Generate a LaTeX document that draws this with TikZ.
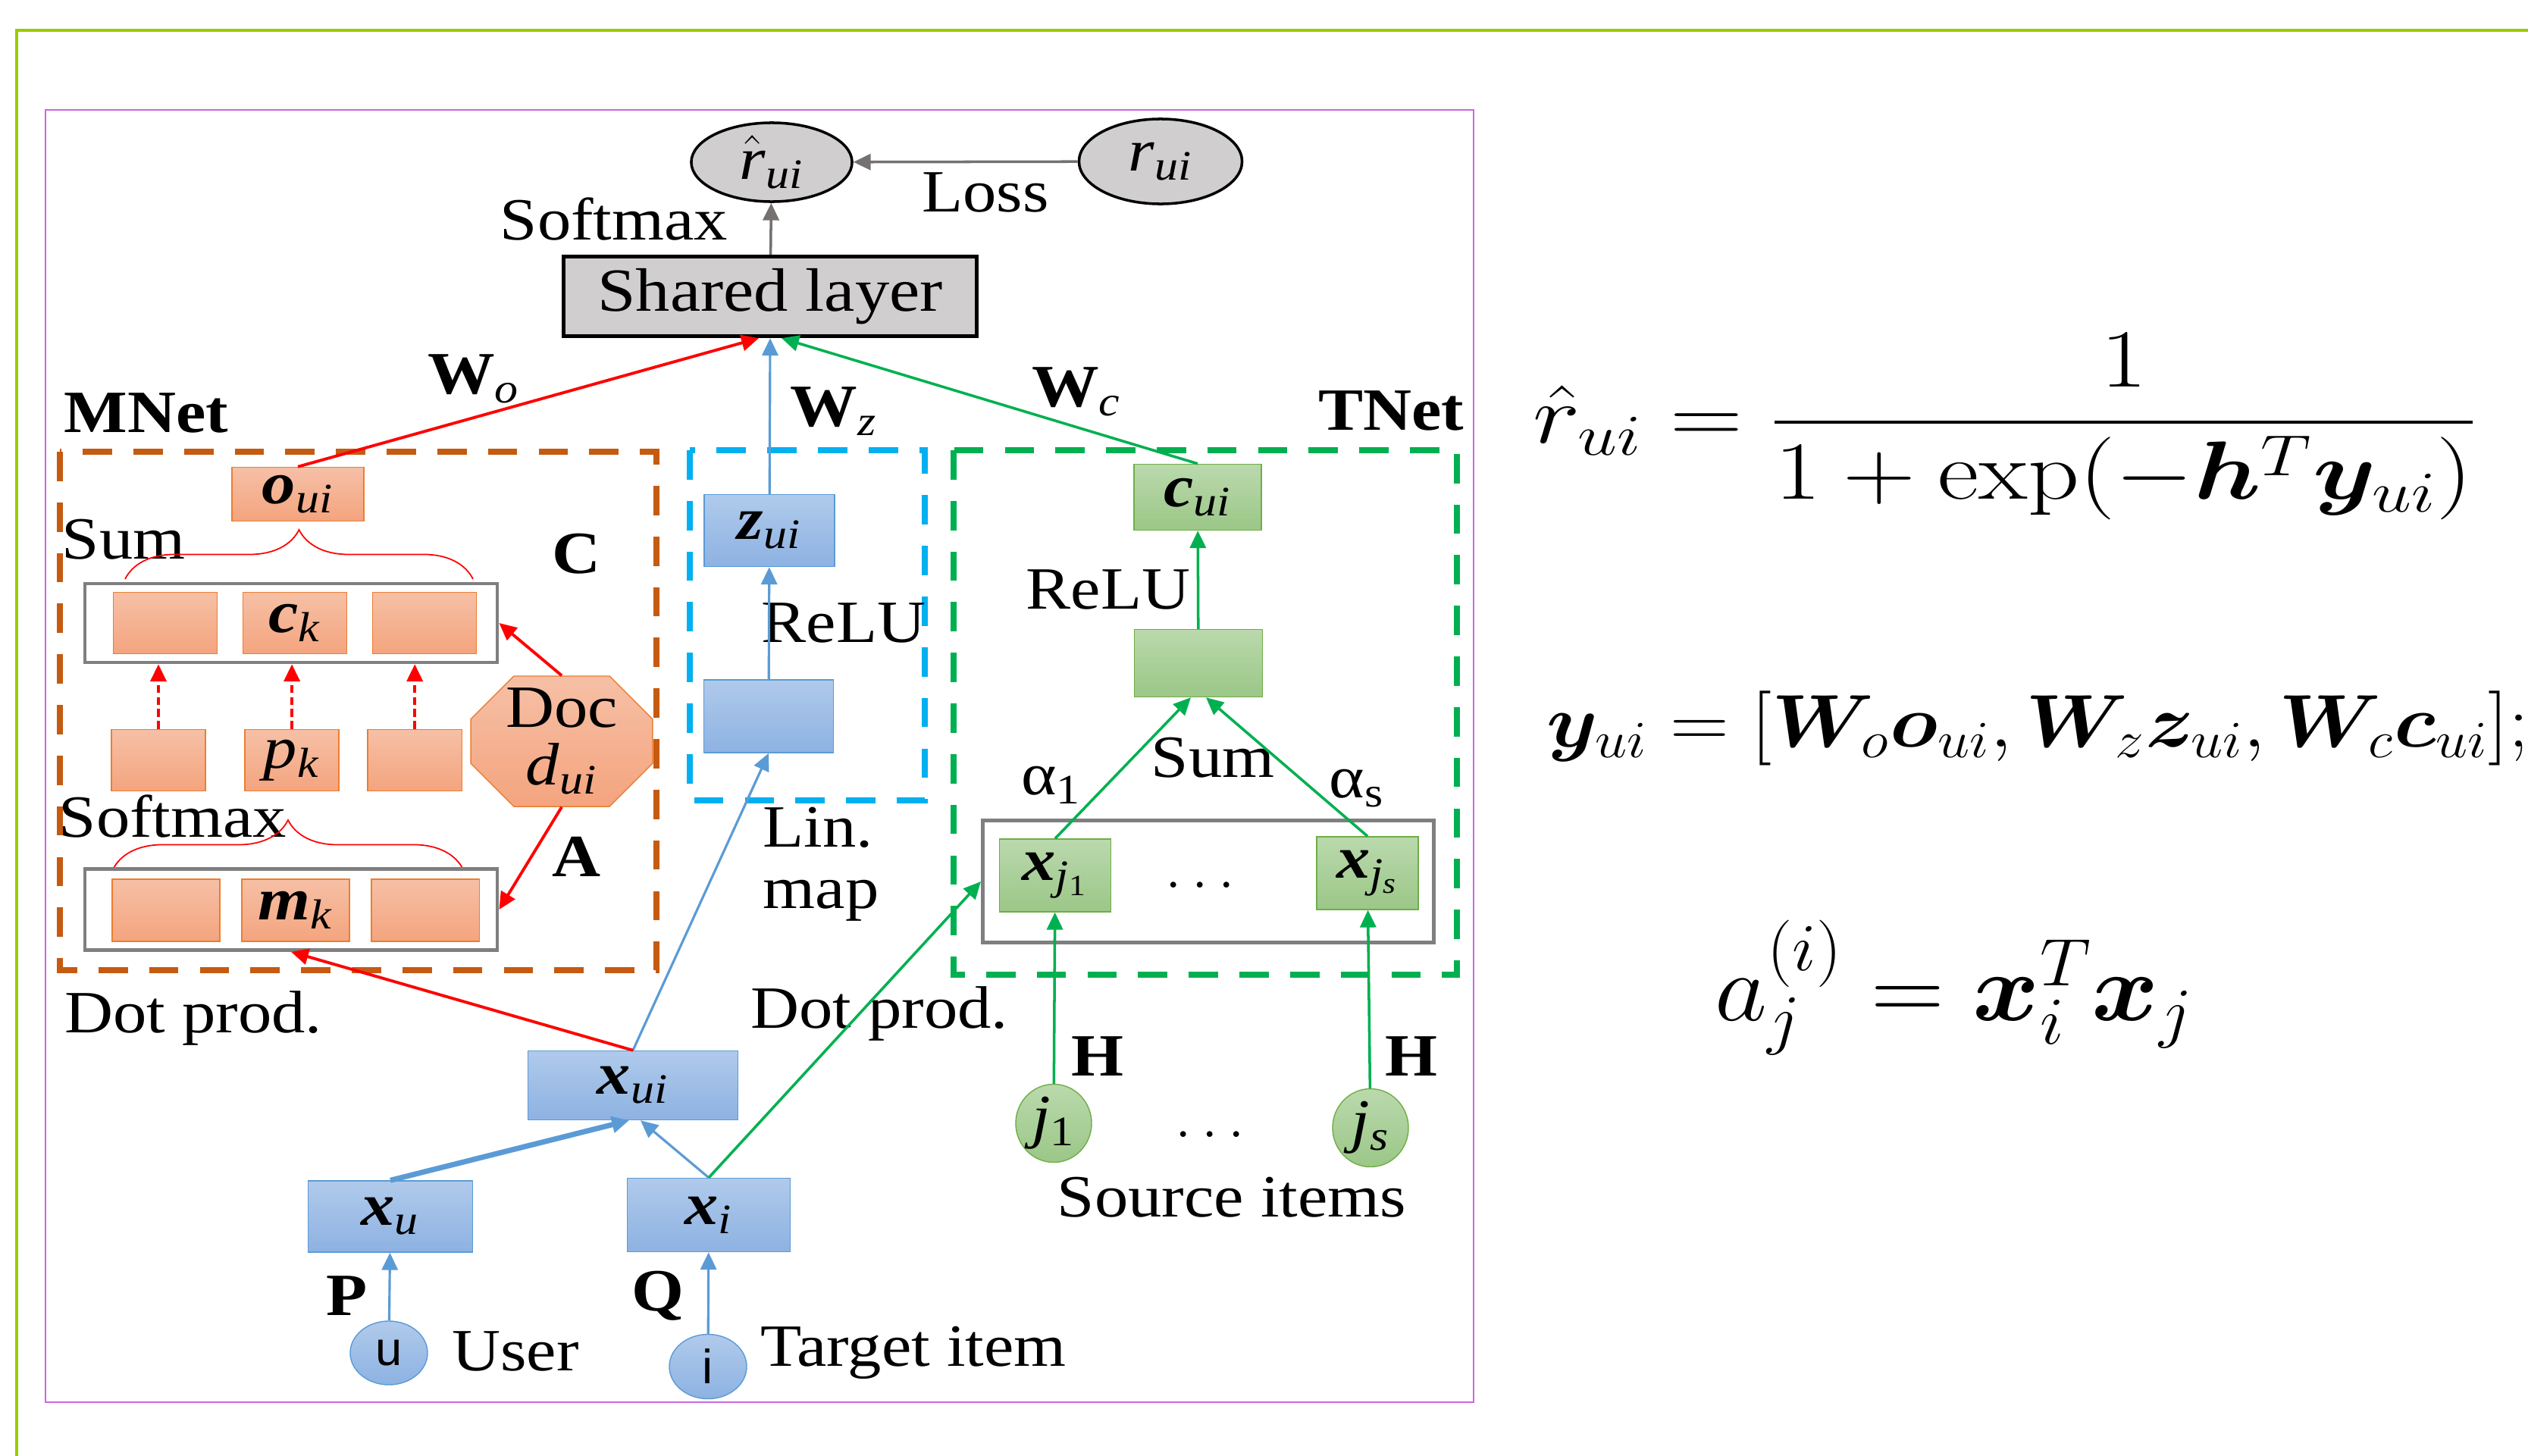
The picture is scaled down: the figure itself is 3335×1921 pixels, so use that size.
\RequirePackage{fix-cm}
\documentclass[tikz,border=0pt]{standalone}
\usepackage{amsmath}
\usepackage{graphicx}
\usepackage[no-math]{fontspec}
\setmainfont{Liberation Serif}[FakeStretch=1.12]
\setsansfont{Liberation Sans}
\usepackage{bm}
\usetikzlibrary{calc,arrows.meta,shapes.geometric,shapes.misc,decorations.pathreplacing}

\definecolor{framegreen}{HTML}{99CC00}
\definecolor{pinkframe}{HTML}{CC66E0}
\definecolor{mbrown}{HTML}{C55A11}
\definecolor{zblue}{HTML}{00B0F0}
\definecolor{tgreen}{HTML}{00B050}
\definecolor{lossgray}{HTML}{767171}
\definecolor{shgray}{HTML}{D0CECE}
\definecolor{boxgray}{HTML}{7F7F7F}
\definecolor{otop}{HTML}{F6C0A6}
\definecolor{obot}{HTML}{F4A47E}
\definecolor{oline}{HTML}{ED7D31}
\definecolor{btop}{HTML}{B0CAEB}
\definecolor{bbot}{HTML}{8DB2E2}
\definecolor{bline}{HTML}{5B9BD5}
\definecolor{gtop}{HTML}{BAD9AD}
\definecolor{gbot}{HTML}{9BC787}
\definecolor{gline}{HTML}{70AD47}

\newcommand{\vecsub}[2]{\textbf{\textit{#1}}\textsubscript{\textit{#2}}}

\tikzstyle{lbl}=[inner sep=0pt, font=\fontsize{22.5}{26}\selectfont]
\tikzstyle{blbl}=[inner sep=0pt, font=\fontsize{22.5}{26}\selectfont\bfseries]
\tikzstyle{obox}=[lbl, draw=oline, top color=otop, bottom color=obot, minimum width=1.37cm, minimum height=0.81cm]
\tikzstyle{bbox}=[lbl, draw=bline, top color=btop, bottom color=bbot]
\tikzstyle{gbox}=[lbl, draw=gline, top color=gtop, bottom color=gbot]
\tikzstyle{rowbox}=[draw=boxgray, line width=1.3pt, fill=white]
\tikzstyle{outcome}=[lbl, ellipse, draw=black, line width=1pt, fill=shgray]
\tikzstyle{regionbox}=[line width=2.5pt, dash pattern=on 11pt off 8pt]
\tikzstyle{redline}=[draw=red, line width=1.1pt, -{Triangle[length=6.5pt,width=6pt]}]
\tikzstyle{blueline}=[draw=bline, line width=0.9pt, -{Triangle[length=6.5pt,width=6pt]}]
\tikzstyle{greenline}=[draw=tgreen, line width=1pt, -{Triangle[length=6.5pt,width=6pt]}]
\tikzstyle{grayline}=[draw=lossgray, line width=1pt, -{Triangle[length=6.5pt,width=6pt]}]
\tikzstyle{bracered}=[draw=red, line width=0.5pt, decorate, decoration={brace, amplitude=0.65cm}]

\begin{document}
\begin{tikzpicture}[x=0.01cm, y=-0.01cm, node distance=1.71cm]
  \useasboundingbox (0,0) rectangle (3335,1921);
  \draw[framegreen, line width=1.2pt] (3335,40) -- (22,40) -- (22,1921);
  \draw[pinkframe, line width=0.6pt] (60,145) rectangle (1944,1850);

  % output
  \node[outcome, minimum width=2.12cm, minimum height=1.04cm] (rhat) at (1018,214) {$\hat{\mbox{\itshape r}}$\textsubscript{\textit{ui}}};
  \node[outcome, minimum width=2.15cm, minimum height=1.12cm] (rui) at (1531,213) {\textit{r}\textsubscript{\textit{ui}}};
  \node[lbl] (loss) at (1300,254) {Loss};
  \node[lbl, draw=black, line width=1.5pt, fill=shgray, minimum width=5.44cm, minimum height=1.05cm, font=\fontsize{23}{27}\selectfont] (shared) at (1016,391) {Shared layer};
  \node[lbl] (softmax) at (810,289) {Softmax};
  \path (rui) edge[grayline] (rhat)
        (shared) edge[grayline] (rhat);

  % regions
  \draw[regionbox, mbrown] (79,596) rectangle (866,1280);
  \draw[regionbox, zblue] (910,594) rectangle (1220,1056);
  \draw[regionbox, tgreen] (1258,594) rectangle (1922,1286);
  \node[blbl] (mnet) at (193,545) {MNet};
  \node[blbl] (tnet) at (1835,542) {TNet};
  \node[blbl] (wo) at (625,500) {W\textsubscript{\textit{\mdseries o}}};
  \node[blbl] (wz) at (1100,543) {W\textsubscript{\textit{\mdseries z}}};
  \node[blbl] (wc) at (1420,517) {W\textsubscript{\textit{\mdseries c}}};

  % MNet
  \node[obox, minimum width=1.74cm, minimum height=0.71cm] (oui) at (393,652) {\vecsub{o}{ui}};
  \node[lbl] (sum1) at (163,712) {Sum};
  \node[blbl] (clbl) at (760,731) {C};
  \draw[bracered] (165,764) -- (624,764);
  \node[rowbox, minimum width=5.44cm, minimum height=1.04cm] (crow) at (384,822) {};
  \node[obox] (c1) at (218,822) {};
  \node[obox, right of=c1] (c2) {\vecsub{c}{k}};
  \node[obox, right of=c2] (c3) {};
  \node[obox, minimum width=1.24cm] (p1) at (209,1003) {};
  \node[obox, minimum width=1.24cm, right of=p1, node distance=1.76cm] (p2) {\textit{p}\textsubscript{\textit{k}}};
  \node[obox, minimum width=1.24cm, right of=p2, node distance=1.62cm] (p3) {};
  \node[lbl, font=\fontsize{22.5}{21.5}\selectfont, align=center, chamfered rectangle, chamfered rectangle xsep=0.46cm, draw=oline, top color=otop, bottom color=obot, minimum width=2.18cm, minimum height=1.72cm] (doc) at (741,978) {Doc\\\textit{d}\textsubscript{\textit{ui}}};
  \node[lbl] (softmax2) at (228,1077) {Softmax};
  \node[blbl] (albl) at (760,1130) {A};
  \draw[bracered] (149,1147) -- (611,1147);
  \node[rowbox, minimum width=5.44cm, minimum height=1.07cm] (mrow) at (384,1200) {};
  \node[obox, minimum width=1.42cm, minimum height=0.82cm] (m1) at (219,1201) {};
  \node[obox, minimum width=1.42cm, minimum height=0.82cm, right of=m1] (m2) {\vecsub{m}{k}};
  \node[obox, minimum width=1.42cm, minimum height=0.82cm, right of=m2] (m3) {};
  \node[lbl] (dot1) at (255,1343) {Dot prod.};
  \path (p1) edge[redline, dash pattern=on 3pt off 1.5pt] (p1 |- crow.south)
        (p2) edge[redline, dash pattern=on 3pt off 1.5pt] (p2 |- crow.south)
        (p3) edge[redline, dash pattern=on 3pt off 1.5pt] (p3 |- crow.south)
        (doc.north) edge[redline] (crow.east)
        (doc.south) edge[redline] (mrow.east);

  % user and target item
  \node[bbox, minimum width=2.77cm, minimum height=0.91cm] (xui) at (835,1432) {\vecsub{x}{ui}};
  \node[bbox, minimum width=2.17cm, minimum height=0.94cm] (xu) at (515,1605) {\vecsub{x}{u}};
  \node[bbox, minimum width=2.15cm, minimum height=0.97cm] (xi) at (935,1603) {\vecsub{x}{i}};
  \node[bbox, ellipse, minimum width=1.02cm, minimum height=0.84cm, font=\fontsize{18}{22}\sffamily] (u) at (513,1785) {u};
  \node[bbox, ellipse, minimum width=1.02cm, minimum height=0.85cm, font=\fontsize{18}{22}\sffamily] (i) at (934,1803) {i};
  \node[blbl] (plbl) at (458,1710) {P};
  \node[blbl] (qlbl) at (868,1710) {Q};
  \node[lbl] (user) at (680,1783) {User};
  \node[lbl] (target) at (1205,1785) {Target item};

  % lin. map
  \node[bbox, minimum width=1.72cm, minimum height=0.95cm] (zui) at (1015,700) {\vecsub{z}{ui}};
  \node[bbox, minimum width=1.71cm, minimum height=0.96cm] (lin) at (1014,945) {};
  \node[lbl] (relu1) at (1113,822) {ReLU};
  \node[lbl, align=left, font=\fontsize{22.5}{23}\selectfont] (linmap) at (1083,1140) {Lin.\\map};

  % TNet
  \node[gbox, minimum width=1.68cm, minimum height=0.87cm] (cui) at (1580,656) {\vecsub{c}{ui}};
  \node[gbox, minimum width=1.69cm, minimum height=0.89cm] (sumbox) at (1581,875) {};
  \node[lbl] (relu2) at (1462,778) {ReLU};
  \node[lbl] (sum2) at (1600,1000) {Sum};
  \node[lbl] (alpha1) at (1387,1036) {α\textsubscript{1}};
  \node[lbl] (alphas) at (1790,1040) {α\textsubscript{s}};
  \node[rowbox, minimum width=5.95cm, minimum height=1.61cm] (xrow) at (1594,1163) {};
  \node[gbox, minimum width=1.47cm, minimum height=0.96cm] (xj1) at (1392,1155) {\textbf{\textit{x}}\textsubscript{\textit{j}\textsubscript{1}}};
  \node[gbox, minimum width=1.34cm, minimum height=0.96cm] (xjs) at (1804,1152) {\textbf{\textit{x}}\textsubscript{\textit{j}\textsubscript{\textit{s}}}};
  \node[lbl] (xdots) at (1590,1168) {$\dots$};
  \node[lbl] (dot2) at (1160,1337) {Dot prod.};
  \node[gbox, ellipse, minimum width=1cm, minimum height=1.03cm] (j1) at (1390,1482) {\textit{j}\textsubscript{1}};
  \node[gbox, ellipse, minimum width=1cm, minimum height=1.03cm] (js) at (1808,1488) {\textit{j}\textsubscript{\textit{s}}};
  \node[blbl] (h1) at (1448,1394) {H};
  \node[blbl] (hs) at (1862,1394) {H};
  \node[lbl] (sdots) at (1603,1497) {$\dots$};
  \node[lbl] (source) at (1625,1580) {Source items};

  \path (u) edge[blueline] (xu)
        (i) edge[blueline] (xi)
        (xu.north) edge[blueline, line width=2pt] ([xshift=-0.05cm]xui.south)
        (xi.north) edge[blueline] ([xshift=0.1cm]xui.south)
        (xui.north) edge[blueline] (lin.south)
        (lin) edge[blueline] (zui)
        (zui) edge[blueline] (shared.south);
  \path (xui.north) edge[redline] (mrow.south)
        (oui.north) edge[redline] ([xshift=-0.15cm]shared.south);
  \path (xi.north) edge[greenline] (xrow.west)
        (j1) edge[greenline] (xj1)
        (js) edge[greenline] (xjs)
        (xj1.north) edge[greenline] ([xshift=-0.1cm]sumbox.south)
        (xjs.north) edge[greenline] ([xshift=0.1cm]sumbox.south)
        (sumbox) edge[greenline] (cui)
        (cui.north) edge[greenline] ([xshift=0.15cm]shared.south);

  % formulas
  \node[anchor=base west, inner sep=0pt, font=\fontsize{31}{37}\selectfont] (eqr) at (2022,584) {\scalebox{1.22}[1]{$\displaystyle \hat{r}_{ui} = \frac{1}{1+\exp(-\bm{h}^T\bm{y}_{ui})}$}};
  \node[anchor=base west, inner sep=0pt, font=\fontsize{28}{34}\selectfont] (eqy) at (2040,985) {\scalebox{1.095}[1]{$\bm{y}_{ui} = [\bm{W}_{o}\bm{o}_{ui}, \bm{W}_{z}\bm{z}_{ui}, \bm{W}_{c}\bm{c}_{ui}];$}};
  \node[anchor=base west, inner sep=0pt, font=\fontsize{36}{43}\selectfont] (eqa) at (2262,1346) {\scalebox{1.06}[1]{$a_j^{(i)} = \bm{x}_i^T\bm{x}_j$}};
\end{tikzpicture}
\end{document}
